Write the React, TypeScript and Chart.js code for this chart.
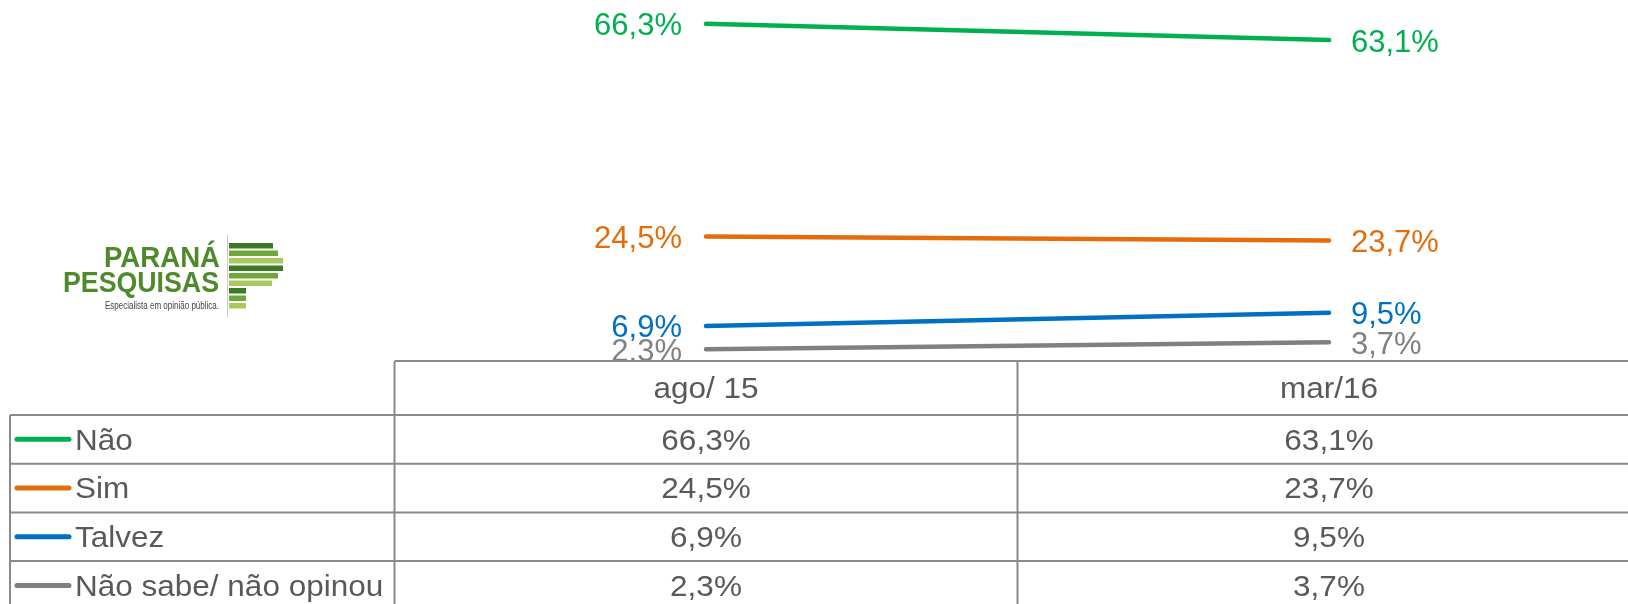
import React, { useEffect, useRef } from 'react';
import { Chart, registerables } from 'chart.js';

Chart.register(...registerables);

const categories = ['ago/ 15', 'mar/16'];
const seriesNames = ['Não', 'Sim', 'Talvez', 'Não sabe/ não opinou'];
const naoValues = [66.3, 63.1];
const simValues = [24.5, 23.7];
const talvezValues = [6.9, 9.5];
const naoSabeValues = [2.3, 3.7];
const seriesColors = ['#00B050', '#E46C0A', '#0070C0', '#808080'];

const W = 1628;
const H = 604;
const FONT = '"Liberation Sans", Arial, sans-serif';
const TABLE_STRETCH = 1.05;

const fmt = (v: number) => v.toFixed(1).replace('.', ',') + '%';

function stretchedText(ctx: CanvasRenderingContext2D, text: string, x: number, y: number, sx: number) {
  ctx.save();
  ctx.translate(x, y);
  ctx.scale(sx, 1);
  ctx.fillText(text, 0, 0);
  ctx.restore();
}

const overlayPlugin = {
  id: 'overlay',
  afterDatasetsDraw(chart: any) {
    const ctx = chart.ctx;
    ctx.save();
    ctx.font = `31px ${FONT}`;
    ctx.textBaseline = 'middle';
    chart.data.datasets.forEach((ds: any, di: number) => {
      const meta = chart.getDatasetMeta(di);
      ctx.fillStyle = ds.borderColor;
      meta.data.forEach((pt: any, i: number) => {
        const last = i === meta.data.length - 1;
        ctx.textAlign = last ? 'left' : 'right';
        const x = last ? pt.x + 22 : pt.x - 24;
        ctx.fillText(fmt(ds.data[i]), x, pt.y + 3);
      });
    });
    ctx.restore();
  },
  afterDraw(chart: any) {
    const ctx = chart.ctx;
    const xs = chart.scales.x;
    const ys = chart.scales.y;
    const x0 = xs.getPixelForValue(0);
    const x1 = xs.getPixelForValue(1);
    const w = x1 - x0;
    const edges = [x0 - w / 2, x0 + w / 2, x1 + w / 2];
    const top = Math.round(ys.getPixelForValue(0));
    const headerH = 54;
    const rowH = 48.7;
    const leftX = 10;
    const rowTops = chart.data.datasets.map((_: any, i: number) => top + headerH + i * rowH);
    const bottom = top + headerH + chart.data.datasets.length * rowH;

    ctx.save();
    ctx.fillStyle = '#ffffff';
    ctx.fillRect(0, top, W, H - top);

    ctx.strokeStyle = '#8a8a8a';
    ctx.lineWidth = 2;
    ctx.beginPath();
    ctx.moveTo(edges[0], top);
    ctx.lineTo(W, top);
    edges.slice(0, 2).forEach((ex) => {
      ctx.moveTo(ex, top);
      ctx.lineTo(ex, bottom);
    });
    rowTops.forEach((ry: number) => {
      ctx.moveTo(leftX, ry);
      ctx.lineTo(W, ry);
    });
    ctx.moveTo(leftX, rowTops[0]);
    ctx.lineTo(leftX, bottom);
    ctx.moveTo(leftX, bottom);
    ctx.lineTo(W, bottom);
    ctx.stroke();

    ctx.font = `30px ${FONT}`;
    ctx.fillStyle = '#595959';
    ctx.textBaseline = 'middle';
    ctx.textAlign = 'center';
    chart.data.labels.forEach((lab: string, i: number) => {
      stretchedText(ctx, lab, xs.getPixelForValue(i), top + headerH / 2 + 2, TABLE_STRETCH);
    });

    chart.data.datasets.forEach((ds: any, di: number) => {
      const cy = rowTops[di] + rowH / 2 + 2;
      ctx.strokeStyle = ds.borderColor;
      ctx.lineWidth = 5;
      ctx.lineCap = 'round';
      ctx.beginPath();
      ctx.moveTo(17, cy - 2);
      ctx.lineTo(69, cy - 2);
      ctx.stroke();
      ctx.fillStyle = '#595959';
      ctx.textAlign = 'left';
      stretchedText(ctx, ds.label, 75, cy, TABLE_STRETCH);
      ctx.textAlign = 'center';
      ds.data.forEach((v: number, i: number) => {
        stretchedText(ctx, fmt(v), xs.getPixelForValue(i), cy, TABLE_STRETCH);
      });
    });

    // logo
    ctx.fillStyle = '#4E8A2C';
    ctx.textAlign = 'right';
    ctx.textBaseline = 'alphabetic';
    ctx.font = `bold 30px "Liberation Sans Narrow", ${FONT}`;
    ctx.fillText('PARANÁ', 220, 267, 116);
    ctx.fillText('PESQUISAS', 219, 292, 156);
    ctx.font = `10px "Liberation Sans Narrow", ${FONT}`;
    ctx.fillStyle = '#444444';
    ctx.fillText('Especialista em opinião pública.', 219, 309, 114);
    ctx.strokeStyle = '#c8c8c8';
    ctx.lineWidth = 1;
    ctx.beginPath();
    ctx.moveTo(227.5, 235);
    ctx.lineTo(227.5, 317);
    ctx.stroke();
    const stripeColors = ['#3E7A25', '#6FA83A', '#A9C95A'];
    const stripeRight = [273, 278, 283, 283, 278, 272, 246, 246, 246];
    stripeRight.forEach((r, i) => {
      ctx.fillStyle = stripeColors[i % 3];
      ctx.fillRect(229, 243 + i * 7.5, r - 229, 5.5);
    });
    ctx.restore();
  },
};

export default function App() {
  const ref = useRef<HTMLCanvasElement | null>(null);
  useEffect(() => {
    if (!ref.current) return;
    const seriesValues = [naoValues, simValues, talvezValues, naoSabeValues];
    const chart = new Chart(ref.current, {
      type: 'line',
      data: {
        labels: categories,
        datasets: seriesNames.map((name, i) => ({
          label: name,
          data: seriesValues[i],
          borderColor: seriesColors[i],
          backgroundColor: seriesColors[i],
          borderWidth: 4.5,
          borderCapStyle: 'round' as const,
          pointRadius: 0,
          tension: 0,
          clip: false as any,
        })),
      },
      options: {
        responsive: false,
        animation: false,
        layout: { padding: { left: 706, right: W - 1329, top: 5, bottom: H - 361 } },
        plugins: { legend: { display: false }, tooltip: { enabled: false } },
        scales: {
          x: { type: 'category', offset: false, display: false },
          y: { min: 0, max: 70, display: false },
        },
      },
      plugins: [overlayPlugin],
    });
    return () => chart.destroy();
  }, []);
  return (
    <div style={{ position: 'absolute', left: 0, top: 0, width: W, height: H, background: '#fff' }}>
      <canvas ref={ref} width={W} height={H} style={{ width: W, height: H, display: 'block' }} />
    </div>
  );
}
